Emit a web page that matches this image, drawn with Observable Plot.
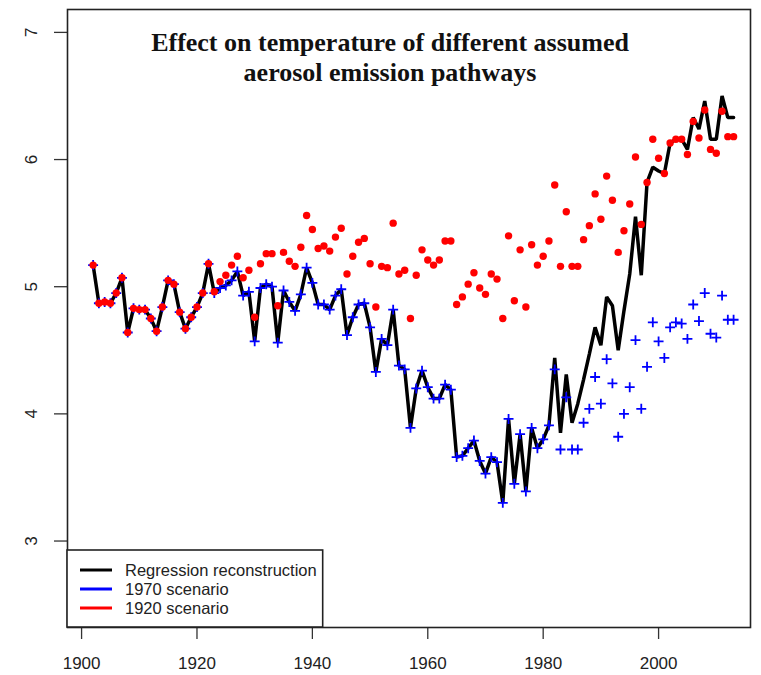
<!DOCTYPE html>
<html>
<head>
<meta charset="utf-8">
<script src="https://cdn.jsdelivr.net/npm/d3@7"></script>
<script src="https://cdn.jsdelivr.net/npm/@observablehq/plot@0.6"></script>
<style>
  html, body { margin: 0; padding: 0; background: #fff; }
  #chart svg { display: block; }
</style>
</head>
<body>
<div id="chart"></div>
<script>
// Annual series, 1902–2013
const years = [
  1902,1903,1904,1905,1906,1907,1908,1909,1910,1911,1912,1913,1914,1915,1916,1917,1918,1919,1920,1921,
  1922,1923,1924,1925,1926,1927,1928,1929,1930,1931,1932,1933,1934,1935,1936,1937,1938,1939,1940,1941,
  1942,1943,1944,1945,1946,1947,1948,1949,1950,1951,1952,1953,1954,1955,1956,1957,1958,1959,1960,1961,
  1962,1963,1964,1965,1966,1967,1968,1969,1970,1971,1972,1973,1974,1975,1976,1977,1978,1979,1980,1981,
  1982,1983,1984,1985,1986,1987,1988,1989,1990,1991,1992,1993,1994,1995,1996,1997,1998,1999,2000,2001,
  2002,2003,2004,2005,2006,2007,2008,2009,2010,2011,2012,2013
];

// Regression reconstruction (black line)
const reconstruction = [
  5.17,4.87,4.88,4.87,4.95,5.07,4.64,4.83,4.82,4.82,4.75,4.65,4.84,5.05,5.02,4.80,4.67,4.76,4.84,4.95,
  5.18,4.95,4.99,5.01,5.05,5.12,4.93,4.96,4.57,4.99,5.02,5.00,4.56,4.97,4.88,4.81,4.94,5.15,5.03,4.86,
  4.86,4.82,4.93,4.98,4.62,4.76,4.86,4.87,4.68,4.33,4.59,4.54,4.82,4.38,4.35,3.89,4.20,4.34,4.21,4.12,
  4.12,4.23,4.19,3.66,3.67,3.73,3.79,3.63,3.53,3.66,3.62,3.30,3.96,3.45,3.84,3.39,3.89,3.73,3.80,3.91,
  4.44,3.85,4.31,3.93,4.08,4.27,4.47,4.68,4.54,4.92,4.85,4.50,4.81,5.10,5.55,5.09,5.82,5.94,5.91,5.89,
  6.13,6.16,6.16,6.08,6.33,6.24,6.46,6.16,6.16,6.50,6.33,6.33
];

// 1970 scenario (blue crosses)
const scenario1970 = [
  5.17,4.87,4.88,4.87,4.95,5.07,4.64,4.83,4.82,4.82,4.75,4.65,4.84,5.05,5.02,4.80,4.67,4.76,4.84,4.95,
  5.18,4.95,4.99,5.01,5.05,5.12,4.93,4.96,4.57,4.99,5.02,5.00,4.56,4.97,4.88,4.81,4.94,5.15,5.03,4.86,
  4.86,4.82,4.93,4.98,4.62,4.76,4.86,4.87,4.68,4.33,4.59,4.54,4.82,4.38,4.35,3.89,4.20,4.34,4.21,4.12,
  4.12,4.23,4.19,3.66,3.67,3.73,3.79,3.63,3.53,3.66,3.62,3.30,3.96,3.45,3.84,3.39,3.89,3.73,3.80,3.91,
  4.35,3.72,4.13,3.72,3.72,3.93,4.04,4.29,4.08,4.43,4.24,3.82,4.00,4.21,4.58,4.04,4.37,4.72,4.57,4.44,
  4.68,4.72,4.71,4.59,4.86,4.73,4.95,4.63,4.60,4.93,4.74,4.74
];

// 1920 scenario (red dots)
const scenario1920 = [
  5.17,4.87,4.88,4.87,4.95,5.07,4.64,4.83,4.82,4.82,4.75,4.65,4.84,5.05,5.02,4.80,4.67,4.76,4.84,4.95,
  5.18,4.96,5.04,5.09,5.17,5.24,5.07,5.13,4.76,5.18,5.26,5.26,4.85,5.27,5.20,5.16,5.31,5.56,5.45,5.30,
  5.32,5.28,5.39,5.46,5.10,5.24,5.35,5.38,5.18,4.84,5.16,5.15,5.50,5.10,5.13,4.75,5.09,5.29,5.21,5.17,
  5.21,5.36,5.36,4.86,4.92,5.02,5.11,4.99,4.94,5.10,5.06,4.75,5.40,4.89,5.29,4.84,5.33,5.17,5.24,5.36,
  5.80,5.16,5.59,5.16,5.16,5.37,5.48,5.73,5.53,5.87,5.68,5.27,5.44,5.65,6.02,5.49,5.82,6.16,6.01,5.89,
  6.13,6.16,6.16,6.04,6.30,6.17,6.39,6.08,6.05,6.38,6.18,6.18
];

const xTicks = [1900, 1920, 1940, 1960, 1980, 2000];
const yTicks = [3, 4, 5, 6, 7];
const titleLines = ["Effect on temperature of different assumed", "aerosol emission pathways"];
const legendLabels = ["Regression reconstruction", "1970 scenario", "1920 scenario"];
const legendColors = ["black", "blue", "red"];

const rows = years.map((year, i) => ({
  year,
  recon: reconstruction[i],
  s1970: scenario1970[i],
  s1920: scenario1920[i]
}));

const sans = "'Liberation Sans', Arial, Helvetica, sans-serif";
const serif = "'Liberation Serif', 'Times New Roman', serif";

const chart = Plot.plot({
  width: 761,
  height: 675,
  marginLeft: 67,
  marginRight: 11,
  marginTop: 9,
  marginBottom: 48,
  style: { fontFamily: sans, fontSize: "17px", color: "#222", background: "#fff" },
  x: { domain: [1897.56, 2015.93], label: null },
  y: { domain: [2.32, 7.18], label: null },
  marks: [
    Plot.axisX({ ticks: xTicks, tickFormat: d => String(d), tickSize: 12, tickPadding: 17, label: null, stroke: "#333", strokeWidth: 1.3 }),
    Plot.axisY({ ticks: yTicks, tickFormat: d => String(d), tickSize: 13, tickPadding: 18, tickRotate: -90, label: null, stroke: "#333", strokeWidth: 1.3 }),
    Plot.line(rows, { x: "year", y: "recon", stroke: "black", strokeWidth: 3.5, strokeLinejoin: "miter" }),
    Plot.dot(rows, { x: "year", y: "s1970", symbol: "plus", stroke: "blue", r: 3.3, strokeWidth: 1.8 }),
    Plot.dot(rows, { x: "year", y: "s1920", fill: "red", r: 3.7 }),
    Plot.frame({ stroke: "#222", strokeWidth: 1.6 }),
    Plot.text([titleLines.join("\n")], {
      frameAnchor: "top",
      dx: -19,
      dy: 20,
      fontFamily: serif,
      fontWeight: "bold",
      fontSize: 26,
      lineHeight: 1.15,
      fill: "#111"
    })
  ]
});

document.getElementById("chart").appendChild(chart);

// Legend box in the bottom-left corner of the plotting region
const xRange = chart.scale("x").range;
const yRange = chart.scale("y").range;
const left = Math.min(...xRange);
const bottom = Math.max(...yRange);
const rowGap = 19;
const boxH = 77;
const g = d3.select(chart).append("g")
  .attr("font-family", sans)
  .attr("font-size", 16.5)
  .attr("text-anchor", "start")
  .attr("fill", "#222");
const rect = g.append("rect")
  .attr("x", left).attr("y", bottom - boxH)
  .attr("height", boxH)
  .attr("fill", "#fff").attr("stroke", "#222").attr("stroke-width", 1.6);
let maxW = 0;
legendLabels.forEach((label, i) => {
  const cy = bottom - boxH + 20 + i * rowGap;
  g.append("line")
    .attr("x1", left + 13).attr("x2", left + 45)
    .attr("y1", cy).attr("y2", cy)
    .attr("stroke", legendColors[i]).attr("stroke-width", 3);
  const t = g.append("text")
    .attr("x", left + 58).attr("y", cy)
    .attr("dy", "0.35em")
    .attr("text-anchor", "start")
    .text(label);
  maxW = Math.max(maxW, t.node().getComputedTextLength());
});
rect.attr("width", 58 + maxW + 6);
</script>
</body>
</html>
